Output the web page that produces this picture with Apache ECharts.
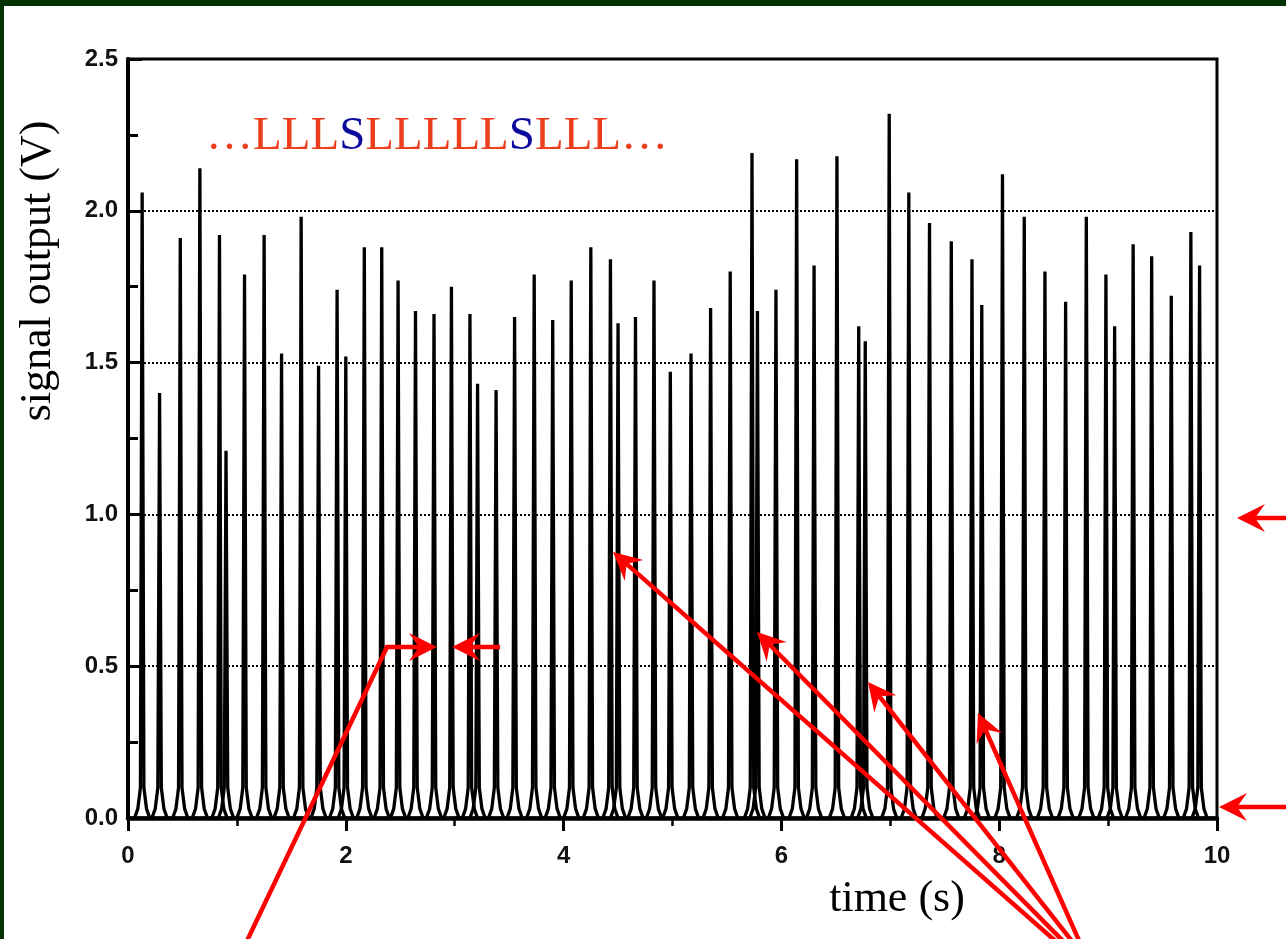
<!DOCTYPE html>
<html>
<head>
<meta charset="utf-8">
<script src="https://cdn.jsdelivr.net/npm/echarts@6/dist/echarts.min.js"></script>
<style>
  html, body { margin: 0; padding: 0; background: #fff; }
  #main { width: 1286px; height: 939px; }
</style>
</head>
<body>
<div id="main"></div>
<script>
// peak times (s) and peak heights (V)
var peakTimes = [0.13, 0.29, 0.48, 0.66, 0.84, 0.90, 1.07, 1.25, 1.41, 1.59,
  1.75, 1.92, 2.00, 2.17, 2.33, 2.48, 2.64, 2.81, 2.97, 3.14,
  3.21, 3.38, 3.55, 3.73, 3.90, 4.07, 4.25, 4.43, 4.50, 4.66,
  4.83, 4.98, 5.17, 5.35, 5.53, 5.73, 5.78, 5.95, 6.14, 6.30,
  6.51, 6.71, 6.77, 6.99, 7.17, 7.36, 7.56, 7.75, 7.84, 8.03,
  8.23, 8.42, 8.61, 8.80, 8.98, 9.06, 9.23, 9.40, 9.58, 9.76, 9.84]
var peakVolts = [2.06, 1.40, 1.91, 2.14, 1.92, 1.21, 1.79, 1.92, 1.53, 1.98,
  1.49, 1.74, 1.52, 1.88, 1.88, 1.77, 1.67, 1.66, 1.75, 1.66,
  1.43, 1.41, 1.65, 1.79, 1.64, 1.77, 1.88, 1.84, 1.63, 1.65,
  1.77, 1.47, 1.53, 1.68, 1.80, 2.19, 1.67, 1.74, 2.17, 1.82,
  2.18, 1.62, 1.57, 2.32, 2.06, 1.96, 1.90, 1.84, 1.69, 2.12,
  1.98, 1.80, 1.70, 1.98, 1.79, 1.62, 1.89, 1.85, 1.72, 1.93, 1.82]
// axis ranges / ticks
var xRange = [0, 10]
var yRange = [0, 2.5]
var xStep = 2
var yStep = 0.5
// sequence label
var seqText = '{a|…LLL}{b|S}{a|LLLLL}{b|S}{a|LLL…}'

var RED = '#ff0000'
var SERIF = '"Liberation Serif", "Times New Roman", serif'
var SANS = '"Liberation Sans", Arial, sans-serif'

var spikes = peakTimes.map(function (t, i) { return [t, peakVolts[i]] })

// one spike: narrow on top, spreading at the base
function renderSpike (params, api) {
  var t = api.value(0)
  var v = api.value(1)
  var pts = [
    api.coord([t - 0.07, 0.0]),
    api.coord([t - 0.04, 0.03]),
    api.coord([t - 0.016, 0.1]),
    api.coord([t - 0.005, v * 0.7]),
    api.coord([t, v]),
    api.coord([t + 0.005, v * 0.7]),
    api.coord([t + 0.016, 0.1]),
    api.coord([t + 0.04, 0.03]),
    api.coord([t + 0.07, 0.0])
  ]
  return {
    type: 'polyline',
    shape: { points: pts },
    style: { stroke: '#000', lineWidth: 3.3, fill: null }
  }
}

// red arrow: path of points, last one is the tip
function arrow (pts) {
  var n = pts.length
  var tip = pts[n - 1], prev = pts[n - 2]
  var dx = tip[0] - prev[0], dy = tip[1] - prev[1]
  var len = Math.sqrt(dx * dx + dy * dy)
  var ux = dx / len, uy = dy / len
  var nx = -uy, ny = ux
  var L = 28, W = 14, N = 10
  var back = [tip[0] - L * ux, tip[1] - L * uy]
  var notch = [tip[0] - (L - N) * ux, tip[1] - (L - N) * uy]
  return [
    {
      type: 'polyline', z: 100,
      shape: { points: pts.slice(0, n - 1).concat([notch]) },
      style: { stroke: RED, lineWidth: 4.5, fill: null }
    },
    {
      type: 'polygon', z: 100,
      shape: { points: [tip, [back[0] + W * nx, back[1] + W * ny], notch, [back[0] - W * nx, back[1] - W * ny]] },
      style: { fill: RED }
    }
  ]
}

var graphics = [
  { type: 'rect', shape: { x: 0, y: 0, width: 1286, height: 6 }, style: { fill: '#023201' }, z: 100 },
  { type: 'rect', shape: { x: 0, y: 0, width: 4, height: 939 }, style: { fill: '#023201' }, z: 100 },
  {
    type: 'text', x: 38, y: 271, rotation: Math.PI / 2,
    style: { text: 'signal output (V)', font: '44px ' + SERIF, fill: '#000', align: 'center', verticalAlign: 'middle' }
  },
  {
    type: 'text', x: 897, y: 899,
    style: { text: 'time (s)', font: '44px ' + SERIF, fill: '#000', align: 'center', verticalAlign: 'middle' }
  },
  {
    type: 'text', x: 206, y: 137,
    style: {
      text: seqText, align: 'left', verticalAlign: 'middle',
      font: '47px ' + SERIF,
      rich: {
        a: { fill: '#ec3d1c', fontSize: 47, fontFamily: SERIF },
        b: { fill: '#0b0b9e', fontSize: 47, fontFamily: SERIF }
      }
    }
  }
]
graphics = graphics
  .concat(arrow([[245, 945], [387, 647], [437, 647]]))
  .concat(arrow([[500, 647], [452, 647]]))
  .concat(arrow([[1290, 518], [1237, 518]]))
  .concat(arrow([[1290, 807], [1219, 807]]))
  .concat(arrow([[1060, 945], [613, 552]]))
  .concat(arrow([[1067, 945], [757, 632]]))
  .concat(arrow([[1075, 945], [868, 682]]))
  .concat(arrow([[1081, 945], [978, 713]]))

var mychart = echarts.init(document.getElementById('main'))
var option = {
  backgroundColor: '#fff',
  animation: false,
  grid: {
    left: 128, top: 59, width: 1089, height: 759,
    show: true, borderColor: '#000', borderWidth: 3, backgroundColor: 'transparent'
  },
  xAxis: {
    type: 'value', min: xRange[0], max: xRange[1], interval: xStep,
    axisLine: { lineStyle: { color: '#000', width: 4.5 } },
    axisTick: { inside: false, length: 13, lineStyle: { color: '#000', width: 3 } },
    minorTick: { show: true, splitNumber: 2, length: 8, lineStyle: { color: '#000', width: 2.5 } },
    splitLine: { show: false },
    axisLabel: { color: '#111', fontSize: 24, fontWeight: 'bold', fontFamily: SANS, margin: 26 }
  },
  yAxis: {
    type: 'value', min: yRange[0], max: yRange[1], interval: yStep,
    axisLine: { lineStyle: { color: '#000', width: 4 } },
    axisTick: { inside: true, length: 14, lineStyle: { color: '#000', width: 3 } },
    minorTick: { show: true, splitNumber: 2, length: 10, lineStyle: { color: '#000', width: 3 } },
    splitLine: { show: true, lineStyle: { color: '#000', width: 2, type: [2, 2] } },
    axisLabel: {
      color: '#111', fontSize: 24, fontWeight: 'bold', fontFamily: SANS, margin: 10,
      formatter: function (v) { return v.toFixed(1) }
    }
  },
  graphic: graphics,
  series: [{
    type: 'custom',
    renderItem: renderSpike,
    data: spikes,
    clip: false
  }]
}
mychart.setOption(option)
</script>
</body>
</html>
